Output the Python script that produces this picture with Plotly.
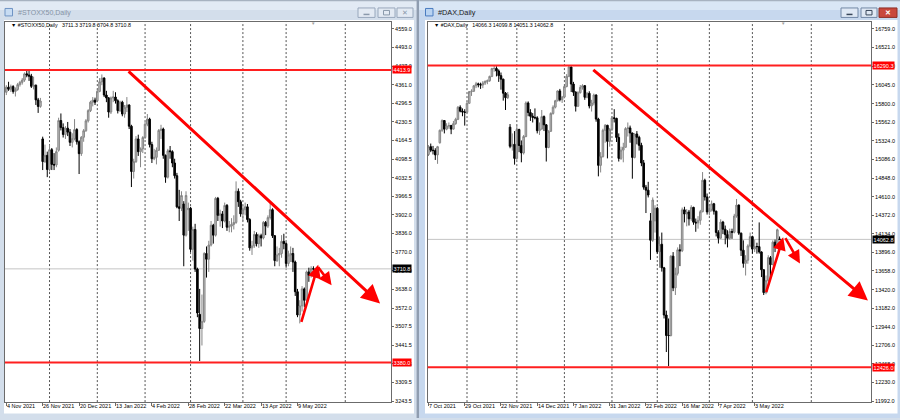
import plotly.graph_objects as go

W, H = 900, 420

# ---------------- data: #STOXX50 Daily (bar 0 = 4 Nov 2021) ----------------
stoxx_open = [4335,4353,4346,4355,4338,4345,4362,4370,4378,4400,
              4396,4392,4356,4360,4308,4285,4170,4090,4112,4062,
              4132,4080,4078,4130,4235,4210,4186,4208,4194,4158,
              4171,4203,4160,4118,4176,4199,4234,4270,4300,4307,
              4305,4338,4372,4385,4325,4315,4265,4315,4318,4305,
              4270,4300,4258,4282,4290,4215,4055,4090,4170,4125,
              4135,4175,4222,4240,4150,4100,4105,4130,4200,4205,
              4112,4035,4128,4125,4085,4040,3930,3925,3940,3830,
              3920,3925,3780,3850,3710,3550,3500,3525,3765,3745,
              3795,3865,3830,3960,3900,3905,3880,3935,3858,3862,
              3868,3875,3985,3948,3905,3920,3930,3885,3785,3792,
              3832,3800,3828,3820,3875,3862,3892,3920,3828,3740,
              3760,3765,3808,3800,3730,3760,3765,3735,3630,3548,
              3580,3640,3600,3700,3688,3711.3]
stoxx_high = [4360,4372,4362,4360,4352,4368,4375,4385,4405,4414,
              4410,4400,4390,4362,4315,4315,4178,4150,4125,4150,
              4138,4120,4140,4245,4260,4225,4215,4230,4205,4190,
              4240,4208,4165,4180,4205,4240,4275,4305,4318,4316,
              4345,4385,4398,4388,4340,4318,4320,4340,4335,4310,
              4305,4305,4290,4318,4292,4220,4100,4180,4185,4140,
              4180,4230,4258,4245,4160,4135,4140,4205,4220,4210,
              4115,4135,4145,4130,4100,4050,3990,3985,3950,3985,
              3945,3930,3860,3870,3715,3640,3620,3770,3790,3810,
              3880,3870,3965,3965,3920,3915,3945,3940,3880,3890,
              3900,4020,3995,3955,3935,3945,3940,3890,3810,3845,
              3840,3835,3835,3880,3880,3900,3950,3925,3830,3790,
              3785,3830,3835,3805,3775,3790,3785,3740,3640,3600,
              3650,3645,3705,3715,3720,3719.8]
stoxx_low = [4325,4340,4336,4330,4320,4340,4355,4362,4372,4388,
             4375,4350,4345,4290,4262,4280,4060,4085,4035,4055,
             4060,4060,4070,4125,4200,4175,4170,4180,4145,4140,
             4165,4150,4046,4110,4160,4195,4228,4265,4285,4290,
             4300,4335,4360,4318,4300,4245,4258,4300,4295,4260,
             4265,4250,4245,4265,4205,4000,4030,4085,4110,4070,
             4120,4170,4215,4140,4085,4095,4080,4128,4170,4100,
             4015,4030,4100,4070,4030,3925,3880,3915,3720,3825,
             3845,3770,3740,3700,3540,3385,3440,3520,3680,3700,
             3790,3800,3825,3880,3860,3855,3875,3845,3840,3840,
             3850,3870,3930,3895,3880,3900,3875,3775,3760,3785,
             3790,3785,3790,3815,3830,3855,3885,3820,3720,3735,
             3720,3750,3780,3715,3720,3735,3700,3615,3540,3518,
             3560,3575,3595,3665,3680,3704.8]
stoxx_close = [4353,4346,4355,4338,4345,4362,4370,4378,4400,4396,
               4392,4356,4360,4308,4285,4304,4090,4112,4062,4132,
               4080,4078,4125,4235,4210,4186,4208,4194,4158,4171,
               4203,4160,4118,4176,4199,4234,4270,4300,4307,4300,
               4338,4372,4385,4325,4315,4265,4315,4318,4305,4270,
               4300,4258,4282,4290,4215,4055,4090,4170,4125,4135,
               4175,4222,4240,4150,4100,4105,4130,4200,4205,4112,
               4035,4128,4125,4085,4040,3930,3925,3970,3830,3970,
               3925,3780,3850,3710,3555,3500,3525,3765,3745,3795,
               3865,3830,3960,3900,3905,3880,3935,3858,3862,3868,
               3875,3985,3948,3905,3920,3930,3885,3785,3792,3832,
               3800,3828,3820,3875,3862,3892,3920,3828,3740,3760,
               3765,3808,3800,3730,3760,3765,3735,3630,3548,3580,
               3640,3600,3700,3688,3712,3710.8]
stoxx_date_labels = ["4 Nov 2021", "26 Nov 2021", "20 Dec 2021", "13 Jan 2022", "4 Feb 2022",
                     "28 Feb 2022", "22 Mar 2022", "13 Apr 2022", "9 May 2022"]
stoxx_date_bars = [0, 16, 32, 48, 64, 80, 96, 112, 128]
stoxx_month_bars = [19, 40, 61, 81, 104, 123, 149]
stoxx_price_labels = ["4559.0", "4493.0", "4427.0", "4361.0", "4296.5", "4230.5", "4164.5",
                      "4098.5", "4032.5", "3966.5", "3902.0", "3836.0", "3770.0", "3704.0",
                      "3638.0", "3572.0", "3507.5", "3441.5", "3375.5", "3309.5", "3243.5"]
stoxx_levels = [4413.9, 3380.0]
stoxx_bid = 3710.8
stoxx_header = "3711.3 3719.8 3704.8 3710.8"
# arrows: (tail_bar, tail_price, head_bar, head_price)
stoxx_arrows = [(53.1, 4413.9, 164.3, 3588.0, "big"),
                (129.5, 3518.0, 137.1, 3725.0, "small"),
                (136.6, 3722.0, 143.0, 3653.0, "small")]

# ---------------- data: #DAX Daily (bar 0 = 7 Oct 2021) ----------------
dax_open = [15150,15250,15205,15200,15145,15300,15460,15585,15475,15515,
            15520,15475,15545,15600,15755,15705,15695,15690,15805,15955,
            15960,16030,16055,16045,16040,16065,16085,16095,16150,16250,
            16252,16220,16160,16115,15935,15878,15500,15255,15280,15100,
            15470,15265,15170,15380,15810,15687,15640,15625,15620,15455,
            15475,15635,15530,15240,15447,15676,15756,15838,15964,15852,
            15885,16020,16152,16271,16052,15948,15768,15942,16010,16031,
            15883,15933,15772,15810,15912,15603,15011,15123,15460,15524,
            15318,15471,15619,15613,15368,15100,15206,15242,15482,15490,
            15425,15113,15412,15370,15267,15042,14731,14693,14300,14052,
            14300,14461,13905,14000,13698,13094,12832,12831,13848,13442,
            13628,13929,13917,14441,14388,14413,14326,14473,14283,14274,
            14306,14417,14820,14606,14415,14446,14518,14424,14152,14078,
            14284,14193,14124,14077,14164,14154,14362,14502,14142,13924,
            13756,13796,13979,14098,13939,13971,13970,13902,13674,13381,
            13535,13829,13740,14027,13964,14066.3]
dax_high = [15270,15290,15260,15230,15260,15470,15600,15590,15550,15560,
            15530,15580,15620,15770,15780,15740,15730,15830,15960,15985,
            16040,16080,16070,16070,16090,16100,16110,16160,16260,16290,
            16280,16240,16200,16120,15950,15950,15540,15420,15450,15520,
            15480,15330,15400,15830,15830,15730,15680,15740,15640,15560,
            15720,15650,15540,15460,15690,15780,15850,15970,15990,15900,
            16030,16180,16290,16275,16080,15960,15960,16040,16050,16040,
            15950,15960,15850,15930,15920,15620,15180,15480,15540,15530,
            15490,15640,15730,15620,15420,15250,15300,15500,15560,15520,
            15430,15420,15450,15390,15300,15080,14760,14800,14400,14600,
            14500,14480,14100,14150,13710,13150,13050,13860,13900,13700,
            13960,14000,14470,14480,14450,14440,14500,14480,14330,14360,
            14440,14925,14840,14650,14500,14560,14530,14430,14180,14320,
            14300,14240,14180,14200,14200,14390,14580,14510,14150,14050,
            13860,14000,14150,14110,14060,14020,14280,13910,13680,13600,
            13860,13850,14050,14060,14200,14099.8]
dax_low = [15130,15180,15150,15080,15030,15290,15440,15420,15460,15480,
           15410,15470,15530,15590,15690,15640,15520,15680,15800,15900,
           15950,16000,16010,15990,16000,16040,16050,16080,16140,16210,
           16150,16080,15980,15840,15720,15860,15230,15200,15020,15080,
           15180,15050,15150,15370,15640,15580,15560,15600,15420,15400,
           15470,15450,15060,15230,15440,15660,15740,15830,15830,15810,
           15870,16010,16140,15950,15900,15700,15760,15930,15980,15850,
           15870,15740,15700,15780,15570,14870,14920,15110,15300,15100,
           15250,15450,15560,15310,15060,15080,15050,15240,15380,15300,
           14840,15100,15280,15200,15000,14700,14400,14600,13800,14030,
           14150,13880,13700,13650,13050,12620,12440,12820,13400,13350,
           13600,13720,13900,14280,14230,14240,14300,14250,14160,14200,
           14250,14410,14560,14380,14370,14420,14380,14100,14010,14070,
           14130,14000,13960,14060,14070,14140,14340,14120,13850,13700,
           13600,13750,13960,13880,13900,13880,13880,13580,13350,13360,
           13520,13550,13730,13900,13950,14051.3]
dax_close = [15250,15205,15200,15145,15250,15460,15585,15475,15515,15520,
             15475,15545,15600,15755,15705,15695,15690,15805,15955,15960,
             16030,16055,16045,16040,16065,16085,16095,16150,16250,16252,
             16220,16160,16115,15935,15878,15915,15255,15280,15100,15470,
             15265,15170,15380,15810,15687,15640,15625,15620,15455,15475,
             15635,15530,15240,15447,15676,15756,15838,15964,15852,15885,
             16020,16152,16271,16052,15948,15768,15942,16010,16031,15883,
             15933,15772,15810,15912,15603,15011,15123,15460,15524,15318,
             15471,15619,15613,15368,15100,15206,15242,15482,15490,15425,
             15113,15412,15370,15267,15042,14731,14693,14631,14052,14567,
             14461,13905,14000,13698,13094,12832,12831,13848,13442,13628,
             13929,13917,14441,14388,14413,14326,14473,14283,14274,14306,
             14417,14820,14606,14415,14446,14518,14424,14152,14078,14284,
             14193,14124,14077,14164,14154,14362,14502,14142,13924,13756,
             13796,13979,14098,13939,13971,13970,13902,13674,13381,13535,
             13829,13740,14027,13964,14186,14062.8]
dax_date_labels = ["7 Oct 2021", "29 Oct 2021", "22 Nov 2021", "14 Dec 2021", "7 Jan 2022",
                   "31 Jan 2022", "22 Feb 2022", "16 Mar 2022", "7 Apr 2022", "3 May 2022"]
dax_date_bars = [0, 16, 32, 48, 64, 80, 96, 112, 128, 144]
dax_month_bars = [17, 39, 60, 81, 101, 124, 143, 169]
dax_price_labels = ["16759.0", "16521.0", "16283.0", "16045.0", "15800.0", "15562.0", "15324.0",
                    "15086.0", "14848.0", "14610.0", "14372.0", "14134.0", "13896.0", "13658.0",
                    "13420.0", "13182.0", "12944.0", "12706.0", "12468.0", "12230.0", "11992.0"]
dax_levels = [16290.3, 12426.0]
dax_bid = 14062.8
dax_header = "14066.3 14099.8 14051.3 14062.8"
dax_arrows = [(72.1, 16249.0, 194.0, 13279.0, "big"),
              (148.9, 13369.0, 156.6, 14091.0, "small"),
              (157.2, 14097.0, 164.0, 13753.0, "small")]

# ---------------- layout geometry (pixels) ----------------
PLOT_TOP, PLOT_BOT = 21.7, 404.0
L_PLOT = (5.0, 391.0)
R_PLOT = (427.7, 871.0)
L_XRANGE = [-0.57, 169.1]
R_XRANGE = [-0.35, 195.36]
L_YRANGE = [3240.0, 4584.7]
R_YRANGE = [11979.0, 16852.0]

FONT = "Liberation Sans, Arial, sans-serif"
NB = "\u00a0"

def px(x):
    return x / W

def py(y):
    return 1 - y / H

shapes = []
annotations = []

def rect(x0, y0, x1, y1, fill, line=None, lw=0, layer="below"):
    shapes.append(dict(type="rect", xref="paper", yref="paper",
                       x0=px(x0), x1=px(x1), y0=py(y1), y1=py(y0),
                       fillcolor=fill, line=dict(color=line or fill, width=lw), layer=layer))

def text(x, y, s, size=5.5, color="#000000", xanchor="left", bold=False, xref="paper", yref="paper"):
    annotations.append(dict(x=x, y=y, xref=xref, yref=yref, text=("<b>%s</b>" % s) if bold else s,
                            showarrow=False, xanchor=xanchor, yanchor="middle",
                            font=dict(family=FONT, size=size, color=color)))

# ---------------- window chrome ----------------
# left window (inactive)
rect(0, 0, 417, 420, "#d3deeb")
rect(0, 0, 417, 10, "#e2eaf4")
rect(0, 0, 417, 1.2, "#a7b2c0")
rect(4, 20, 414, 415.5, "#ffffff")
# divider between windows
rect(416.6, 0, 419.2, 420, "#8f9db0")
# right window (active)
rect(419.2, 0, 900, 420, "#c7d8ee")
rect(419.2, 0, 900, 10, "#d9e6f5")
rect(419.2, 0, 900, 1.2, "#a7b2c0")
rect(425, 20, 897.5, 415.5, "#ffffff")

# title icons
rect(5, 8.5, 12.5, 16, "#c7dcf3", "#6f94c4", 1, "above")
rect(425.5, 8.5, 433, 16, "#b9d3f1", "#4a7cc0", 1, "above")
# titles
text(px(15.5), py(12.6), "#STOXX50,Daily", size=7, color="#8593a5")
text(px(436), py(12.6), "#DAX,Daily", size=7.3, color="#1a1a1a")

# window buttons
for (x0, x1) in [(358, 375), (378, 395), (397, 413)]:
    rect(x0, 8, x1, 17.5, "#e3eaf3", "#98a8bc", 1, "above")
for (x0, x1) in [(841, 858), (861, 877)]:
    rect(x0, 8, x1, 17.5, "#dfe8f4", "#7288a6", 1, "above")
rect(879, 8, 897, 17.5, "#c9483d", "#8e2f27", 1, "above")
# button glyphs
shapes.append(dict(type="line", xref="paper", yref="paper", x0=px(363.5), x1=px(369.5),
                   y0=py(14.5), y1=py(14.5), line=dict(color="#8a99ab", width=1.5)))
rect(383.5, 10.5, 389.5, 15, "rgba(0,0,0,0)", "#8a99ab", 1, "above")
text(px(405), py(12.8), "✕", size=6.5, color="#8a99ab", xanchor="center")
shapes.append(dict(type="line", xref="paper", yref="paper", x0=px(846.5), x1=px(852.5),
                   y0=py(14.5), y1=py(14.5), line=dict(color="#39475a", width=1.5)))
rect(866, 10.5, 872, 15, "rgba(0,0,0,0)", "#39475a", 1, "above")
text(px(888), py(12.8), "✕", size=7, color="#ffffff", xanchor="center", bold=True)

# ---------------- panels ----------------
panels = [
    dict(ax="", o=stoxx_open, h=stoxx_high, l=stoxx_low, c=stoxx_close,
         dl=stoxx_date_labels, db=stoxx_date_bars, mb=stoxx_month_bars,
         pl=stoxx_price_labels, lv=stoxx_levels, bid=stoxx_bid, hdr=stoxx_header,
         name="#STOXX50,Daily", arrows=stoxx_arrows, plot=L_PLOT, xr=L_XRANGE, yr=L_YRANGE,
         shift_px=312.5),
    dict(ax="2", o=dax_open, h=dax_high, l=dax_low, c=dax_close,
         dl=dax_date_labels, db=dax_date_bars, mb=dax_month_bars,
         pl=dax_price_labels, lv=dax_levels, bid=dax_bid, hdr=dax_header,
         name="#DAX,Daily", arrows=dax_arrows, plot=R_PLOT, xr=R_XRANGE, yr=R_YRANGE,
         shift_px=782.5),
]

fig = go.Figure()
layout_axes = {}
for p in panels:
    xa, ya = "x" + p["ax"], "y" + p["ax"]
    xkey, ykey = "xaxis" + p["ax"], "yaxis" + p["ax"]
    n = len(p["c"])
    fig.add_trace(go.Candlestick(
        x=list(range(n)), open=p["o"], high=p["h"], low=p["l"], close=p["c"],
        xaxis=xa, yaxis=ya, whiskerwidth=0, showlegend=False, hoverinfo="skip",
        increasing=dict(line=dict(color="#858585", width=1), fillcolor="#bdbdbd"),
        decreasing=dict(line=dict(color="#000000", width=1), fillcolor="#000000"),
    ))
    layout_axes[xkey] = dict(domain=[px(p["plot"][0]), px(p["plot"][1])], range=p["xr"],
                             anchor=ya, showgrid=False, zeroline=False, showline=True, mirror=True,
                             linecolor="#6b6b6b", linewidth=1, ticks="outside", ticklen=3,
                             tickcolor="#6b6b6b", tickvals=p["db"], showticklabels=False,
                             rangeslider=dict(visible=False), fixedrange=True)
    layout_axes[ykey] = dict(domain=[py(PLOT_BOT), py(PLOT_TOP)], range=p["yr"], anchor=xa,
                             side="right", showgrid=False, zeroline=False, showline=True, mirror=True,
                             linecolor="#6b6b6b", linewidth=1, ticks="outside", ticklen=2,
                             tickcolor="#6b6b6b",
                             tickvals=[float(v) for v in p["pl"]], ticktext=p["pl"],
                             tickfont=dict(family=FONT, size=5.5, color="#000000"),
                             fixedrange=True)
    # month separators
    for b in p["mb"]:
        shapes.append(dict(type="line", xref=xa, yref=ya + " domain", x0=b, x1=b, y0=0, y1=1,
                           line=dict(color="#555555", width=1, dash="2px,2px"), layer="below"))
    # bid line
    shapes.append(dict(type="line", xref=xa + " domain", yref=ya, x0=0, x1=1,
                       y0=p["bid"], y1=p["bid"], line=dict(color="#c4c4c4", width=1), layer="below"))
    # horizontal support/resistance lines
    for lv in p["lv"]:
        shapes.append(dict(type="line", xref=xa + " domain", yref=ya, x0=0, x1=1, y0=lv, y1=lv,
                           line=dict(color="#ff1f1f", width=2)))
        annotations.append(dict(x=px(p["plot"][1] + 0.6), y=lv, xref="paper", yref=ya,
                                text="%.1f" % lv, showarrow=False, xanchor="left", yanchor="middle",
                                bgcolor="#ff0000", borderpad=0.6,
                                font=dict(family=FONT, size=5.5, color="#ffffff")))
    annotations.append(dict(x=px(p["plot"][1] + 0.6), y=p["bid"], xref="paper", yref=ya,
                            text="%.1f" % p["bid"], showarrow=False, xanchor="left", yanchor="middle",
                            bgcolor="#000000", borderpad=0.6,
                            font=dict(family=FONT, size=5.5, color="#ffffff")))
    # date labels
    for lab, b in zip(p["dl"], p["db"]):
        annotations.append(dict(x=b, y=py(408.3), xref=xa, yref="paper", text=lab, showarrow=False,
                                xanchor="left", yanchor="middle", xshift=-1.5,
                                font=dict(family=FONT, size=5.5, color="#000000")))
    # header
    text(px(p["plot"][0] + 4), py(25.5),
         "▼" + NB + p["name"] + NB * 3 + p["hdr"].replace(" ", NB), size=5.3)
    # chart shift marker
    text(px(p["shift_px"]), py(23.3), "▼", size=4.5, color="#a0a0a0", xanchor="center")
    # arrows
    for (tb, tp, hb, hp, kind) in p["arrows"]:
        annotations.append(dict(x=hb, y=hp, ax=tb, ay=tp, xref=xa, yref=ya, axref=xa, ayref=ya,
                                text="", showarrow=True, arrowhead=2,
                                arrowsize=1.25 if kind == "big" else 1.0,
                                arrowwidth=3 if kind == "big" else 2.6,
                                arrowcolor="#ff0000", standoff=0, startstandoff=0))

fig.update_layout(width=W, height=H, margin=dict(l=0, r=0, t=0, b=0),
                  paper_bgcolor="#d3deeb", plot_bgcolor="#ffffff",
                  showlegend=False, hovermode=False, boxgap=0.3, boxgroupgap=0,
                  shapes=shapes, annotations=annotations, **layout_axes)

fig.write_html("out.html", config=dict(displayModeBar=False),
               post_script="document.body.style.margin='0';document.body.style.padding='0';"
                           "document.body.style.overflow='hidden';")
